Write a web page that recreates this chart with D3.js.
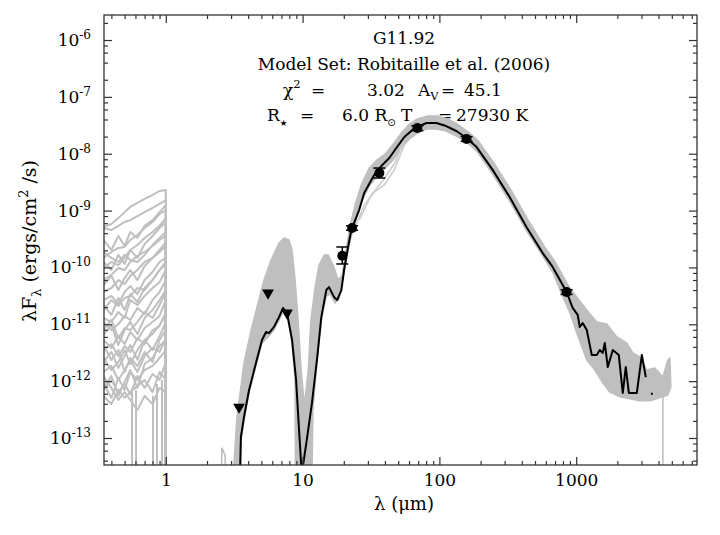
<!DOCTYPE html>
<html><head><meta charset="utf-8">
<script src="https://cdn.jsdelivr.net/npm/d3@7"></script>
<style>body{margin:0;background:#fff}svg{display:block}text{white-space:pre}</style>
</head><body><svg id="c" width="720" height="535"></svg>
<script>
// ---------------- DATA ----------------
// axis ticks
const xTickValues = [1, 10, 100, 1000];
const xTickLabels = ["1", "10", "100", "1000"];
const yTickExps = [-6, -7, -8, -9, -10, -11, -12, -13];

// best-fit model (black) : [wavelength (micron), lambda*F_lambda (erg/cm2/s)]
const bestFit = [
 [3.38,1e-15],[3.54,1.04e-13],[3.73,2.34e-13],[4.06,7.0e-13],[4.56,2.09e-12],[5.05,5.3e-12],[5.40,7.3e-12],
 [5.68,7.0e-12],[6.18,9.0e-12],[6.73,1.34e-11],[7.19,1.94e-11],[7.69,1.58e-11],[8.37,5.3e-12],[8.96,1.05e-12],
 [9.42,1.38e-13],[9.75,3.6e-14],[9.95,1e-15],[10.09,3.4e-14],[10.8,1.04e-13],[11.7,4.1e-13],[12.8,2.66e-12],
 [13.7,1.34e-11],[14.9,4.0e-11],[15.6,4.5e-11],[17.0,3.0e-11],[17.9,2.67e-11],[19.2,4.0e-11],[20.1,9.0e-11],
 [21.5,2.29e-10],[22.7,4.55e-10],[25.9,1.02e-9],[28.2,2.04e-9],[31.8,3.45e-9],[34.5,4.8e-9],[38.2,6.3e-9],
 [43.0,8.4e-9],[48.4,1.26e-8],[55.4,1.97e-8],[63.4,2.61e-8],[69.0,2.95e-8],[80.4,3.47e-8],[95.1,3.47e-8],
 [112,3.07e-8],[133,2.51e-8],[158,1.89e-8],[187,1.31e-8],[245,5.2e-9],[326,1.73e-9],[434,5.1e-10],
 [569,1.79e-10],[673,1.02e-10],[851,3.70e-11],[942,1.94e-11],[1026,1.46e-11],[1061,8.97e-12],[1116,1.05e-11],
 [1195,7.9e-12],[1300,2.88e-12],[1414,2.88e-12],[1487,3.53e-12],[1564,3.13e-12],[1618,4.69e-12],[1702,1.77e-12],
 [1851,3.53e-12],[2048,2.88e-12],[2191,6.2e-13],[2304,1.77e-12],[2426,6.2e-13],[2775,6.2e-13],[3019,2.88e-12],
 [3228,1.18e-12]
];
const bestFitDash = [[3514,6.0e-13],[3630,6.0e-13]];

// envelope of the grey model fits (upper and lower edge)
const bandUpper = [
 [3.04,1e-15],[3.15,3.6e-14],[3.31,2.34e-13],[3.73,2.09e-12],[4.20,7.9e-12],[4.64,2.0e-11],[5.22,6.0e-11],
 [5.88,1.35e-10],[6.73,2.7e-10],[7.31,3.3e-10],[7.96,3.04e-10],[8.37,2.03e-10],[8.81,6.0e-11],[9.27,1.19e-11],
 [9.75,1.58e-12],[10.3,3.8e-13],[11.0,1.58e-12],[11.5,1.19e-11],[12.4,4.9e-11],[13.2,1.1e-10],[14.4,1.66e-10],
 [15.4,1.66e-10],[16.7,1.1e-10],[18.2,6.0e-11],[19.5,7.4e-11],[20.8,2.03e-10],[22.3,5.6e-10],[24.2,1.25e-9],
 [26.8,2.82e-9],[30.7,5.6e-9],[35.1,7.8e-9],[40.2,9.9e-9],[46.0,1.48e-8],[52.7,2.31e-8],[60.3,3.33e-8],
 [69.0,4.08e-8],[81.7,4.6e-8],[96.7,4.6e-8],[115,4.08e-8],[135,3.33e-8],[163,2.41e-8],[193,1.67e-8],
 [253,6.6e-9],[337,2.21e-9],[449,6.6e-10],[588,2.29e-10],[695,1.30e-10],[881,4.7e-11],[1009,3.02e-11],
 [1195,1.79e-11],[1414,1.10e-11],[1672,1.01e-11],[1981,6.0e-12],[2344,4.69e-12],[2594,3.13e-12],
 [2918,2.66e-12],[3282,1.57e-12],[3758,1.71e-12],[4302,1.18e-12],[4677,2.36e-12],[4843,2.55e-12],[4921,7.9e-13]
];
const bandLower = [
 [3.04,1e-15],[3.48,1e-15],[3.54,9.2e-14],[3.73,2.07e-13],[4.06,6.2e-13],[4.56,1.85e-12],[5.05,4.7e-12],
 [5.68,6.2e-12],[6.18,7.9e-12],[6.73,1.19e-11],[7.19,1.64e-11],[7.83,1.29e-11],[8.24,7.9e-12],[8.81,1.05e-12],
 [8.9,1e-15],[11.5,1e-15],[11.9,3.1e-13],[12.8,2.36e-12],[13.7,1.19e-11],[14.9,3.1e-11],[15.9,3.4e-11],
 [17.3,2.37e-11],[18.5,2.9e-11],[19.8,6.5e-11],[21.2,1.66e-10],[22.7,3.57e-10],[24.7,7.4e-10],[27.3,1.53e-9],
 [30.7,2.7e-9],[35.1,4.06e-9],[40.2,5.6e-9],[46.0,7.8e-9],[52.7,1.26e-8],[60.3,1.82e-8],[69.0,2.31e-8],
 [80.4,2.72e-8],[95.1,2.72e-8],[112,2.51e-8],[133,2.05e-8],[158,1.61e-8],[187,1.12e-8],[245,4.4e-9],
 [326,1.47e-9],[434,4.4e-10],[569,1.59e-10],[673,8.3e-11],[796,3.1e-11],[896,1.64e-11],[1009,7.0e-12],
 [1195,2.36e-12],[1367,1.57e-12],[1564,9.3e-13],[1760,6.4e-13],[2083,5.3e-13],[2466,4.9e-13],[2918,4.5e-13],
 [3453,4.5e-13],[4090,5.1e-13],[4677,5.7e-13],[4921,7.9e-13]
];

// individual grey model fits
const greyExtra = [
 [[23.8,4.55e-10],[28.2,1.25e-9],[33.4,2.12e-9],[39.5,2.82e-9],[46.8,5.2e-9],[55.4,1.42e-8]],
 [[25.9,6.8e-10],[31.8,1.88e-9],[38.9,3.45e-9],[47.6,7.1e-9],[54.5,1.61e-8]],
 [[2.49,1e-15],[2.57,6.7e-14],[2.71,5.0e-14],[2.85,1e-15]],
 [[4302,1.0e-12],[4302,1e-15]]
];

// optical part of the grey model fits (0.35 - 1 micron), sampled at leftLam
const leftLam = [0.35, 0.4, 0.45, 0.5, 0.55, 0.62, 0.7, 0.8, 0.9, 1.0];
const leftFits = [
 [5.1e-10,5.8e-10,7.4e-10,9.4e-10,1.16e-9,1.36e-9,1.60e-9,1.88e-9,2.21e-9,2.30e-9],
 [4.94e-10,4.55e-10,5.4e-10,6.3e-10,6.8e-10,8.0e-10,9.4e-10,1.11e-9,1.31e-9,1.53e-9],
 [3.04e-10,2.03e-10,3.57e-10,2.38e-10,4.20e-10,3.30e-10,5.4e-10,6.8e-10,9.4e-10,1.25e-9],
 [1.47e-10,1.87e-10,2.20e-10,2.29e-10,3.04e-10,3.72e-10,4.94e-10,6.3e-10,8.7e-10,1.02e-9],
 [1.25e-10,9.0e-11,1.66e-10,1.15e-10,2.03e-10,1.47e-10,2.58e-10,3.57e-10,4.94e-10,6.3e-10],
 [9.8e-11,1.25e-10,1.10e-10,1.47e-10,2.03e-10,2.48e-10,3.30e-10,4.20e-10,5.4e-10,7.4e-10],
 [1.87e-10,1.47e-10,1.25e-10,1.66e-10,1.35e-10,1.25e-10,1.66e-10,2.48e-10,3.30e-10,4.20e-10],
 [6.0e-11,7.4e-11,9.8e-11,9.0e-11,1.25e-10,1.6e-10,1.87e-10,2.38e-10,3.04e-10,3.57e-10],
 [4.9e-11,7.1e-11,4.0e-11,6.5e-11,9.0e-11,6.0e-11,1.06e-10,1.47e-10,2.03e-10,2.80e-10],
 [3.7e-11,4.35e-11,6.0e-11,5.1e-11,7.1e-11,9.0e-11,1.25e-10,1.47e-10,1.87e-10,2.38e-10],
 [2.67e-11,3.15e-11,2.28e-11,3.7e-11,4.7e-11,3.4e-11,6.0e-11,8.3e-11,1.25e-10,1.47e-10],
 [2.18e-11,1.46e-11,2.90e-11,1.79e-11,3.4e-11,2.47e-11,4.35e-11,6.0e-11,9.0e-11,1.15e-10],
 [1.79e-11,2.67e-11,2.10e-11,2.90e-11,3.15e-11,4.35e-11,4.0e-11,6.0e-11,9.0e-11,1.25e-10],
 [1.29e-11,1.10e-11,1.64e-11,1.29e-11,2.67e-11,2.18e-11,3.15e-11,4.35e-11,5.5e-11,9.0e-11],
 [1.10e-11,7.9e-12,1.01e-11,1.40e-11,1.19e-11,1.94e-11,1.52e-11,2.67e-11,3.7e-11,6.0e-11],
 [6.5e-12,9.7e-12,4.33e-12,7.9e-12,1.10e-11,6.75e-12,1.29e-11,1.79e-11,2.67e-11,4.0e-11],
 [7.9e-12,1.19e-11,5.7e-12,8.6e-12,7.9e-12,1.10e-11,1.64e-11,1.29e-11,2.18e-11,3.7e-11],
 [5.3e-12,3.83e-12,6.2e-12,4.5e-12,7.3e-12,5.3e-12,8.6e-12,1.10e-11,1.40e-11,2.67e-11],
 [4.33e-12,2.36e-12,3.53e-12,1.45e-12,2.55e-12,1.85e-12,3.26e-12,2.17e-12,5.3e-12,7.9e-12],
 [3.53e-12,4.5e-12,2.77e-12,4.15e-12,3.26e-12,5.7e-12,4.5e-12,7.9e-12,9.3e-12,1.64e-11],
 [2.17e-12,3.26e-12,1.71e-12,2.77e-12,4.33e-12,2.36e-12,5.3e-12,6.75e-12,9.7e-12,1.46e-11],
 [2.55e-12,1.57e-12,2.17e-12,3.53e-12,2.0e-12,3.53e-12,5.3e-12,3.53e-12,6.2e-12,1.10e-11],
 [1.45e-12,1.85e-12,1.05e-12,1.57e-12,2.36e-12,1.45e-12,2.77e-12,3.83e-12,3.26e-12,5.7e-12],
 [8.9e-13,5.1e-13,1.14e-12,7.0e-13,1.45e-12,1.05e-12,1.57e-12,1.85e-12,2.55e-12,3.53e-12],
 [7.6e-13,1.23e-12,5.5e-13,9.7e-13,1.57e-12,7.6e-13,2.0e-12,2.55e-12,4.15e-12,5.3e-12],
 [7.0e-13,1.05e-12,6.4e-13,8.9e-13,5.9e-13,1.23e-12,7.6e-13,1.34e-12,1.05e-12,2.17e-12],
 [5.5e-13,3.96e-13,7.0e-13,5.1e-13,6.4e-13,8.2e-13,1.05e-12,6.4e-13,1.45e-12,1.05e-12],
 [1.23e-12,7.6e-13,4.66e-13,6.4e-13,4.66e-13,3.11e-13,5.5e-13,3.96e-13,7.6e-13,6.4e-13]
];
// grey fits that drop to zero inside the optical range: [wavelength, flux before the drop]
const leftDrops = [[0.566,6.4e-13],[0.606,7.0e-13],[0.806,5.5e-13],[0.862,8.9e-13],[0.938,1.05e-12]];
const dropFloor = 1e-15;

// observed fluxes
const detLam   = [19.5, 23.0, 36.4, 69.0, 158, 850];
const detFlux  = [1.6e-10, 4.94e-10, 4.58e-9, 2.83e-8, 1.82e-8, 3.7e-11];
const detErrLo = [1.15e-10, 4.5e-10, 3.74e-9, 2.55e-8, 1.65e-8, 3.35e-11];
const detErrHi = [2.29e-10, 5.4e-10, 5.6e-9, 3.1e-8, 2.0e-8, 4.05e-11];
// upper limits
const limLam  = [3.43, 5.59, 7.69];
const limFlux = [3.5e-13, 3.55e-11, 1.58e-11];

// annotation
const sourceName = "G11.92";
const modelSet = "Model Set: Robitaille et al. (2006)";
const chi2 = "3.02", av = "45.1", rstar = "6.0", tstar = "27930";

// ---------------- DRAWING ----------------
const FONT = "DejaVu Serif";
const L = 104, R = 697, T = 15, B = 465;
const svg = d3.select("#c").attr("font-family", FONT);
const x = d3.scaleLog().domain([0.3533, 7640]).range([L, R]);
const y = d3.scaleLog().domain([3.35e-14, 2.754e-6]).range([B, T]);
const GREY = "#bfbfbf";

function rich(g, px, py, parts, size, anchor) {
  const t = g.append("text").attr("x", px).attr("y", py).attr("font-size", size)
    .attr("text-anchor", anchor || "start").attr("fill", "#000");
  let shift = 0;
  parts.forEach(p => {
    const target = p.sup ? -0.42 * size : (p.sub ? 0.28 * size : 0);
    const s = t.append("tspan").text(p.t).attr("dy", target - shift);
    if (p.sup || p.sub) s.attr("font-size", size * (p.scale || 0.68));
    if (p.family) s.attr("font-family", p.family);
    shift = target;
  });
  return t;
}

// header text (drawn first, plot marks go over it)
const hdr = svg.append("g");
const HS = 17;
const star = {t: "★", sub: true, scale: 0.5, family: "DejaVu Sans"};
rich(hdr, 404, 44, [{t: sourceName}], HS, "middle");
rich(hdr, 404, 69.5, [{t: modelSet}], HS, "middle");
rich(hdr, 283, 95.5, [{t: "χ"}, {t: "2", sup: true}], HS);
rich(hdr, 311, 95.5, [{t: "="}], HS);
rich(hdr, 367, 95.5, [{t: chi2}], HS);
rich(hdr, 418, 95.5, [{t: "A"}, {t: "V", sub: true}], HS);
rich(hdr, 441, 95.5, [{t: "="}], HS);
rich(hdr, 464, 95.5, [{t: av}], HS);
rich(hdr, 267, 121, [{t: "R"}, star], HS);
rich(hdr, 300, 121, [{t: "="}], HS);
rich(hdr, 342, 121, [{t: rstar + " R"}, {t: "⊙", sub: true, scale: 0.6, family: "DejaVu Sans"}], HS);
rich(hdr, 401, 121, [{t: "T"}, star], HS);
rich(hdr, 438, 121, [{t: "="}], HS);
rich(hdr, 456, 121, [{t: tstar + " K"}], HS);

// clip
svg.append("clipPath").attr("id", "clip").append("rect")
  .attr("x", L).attr("y", T).attr("width", R - L).attr("height", B - T);
const plot = svg.append("g").attr("clip-path", "url(#clip)");

const line = d3.line().x(d => x(d[0])).y(d => y(d[1]));

// grey envelope
const poly = bandUpper.concat(bandLower.slice().reverse());
plot.append("path").attr("d", line(poly) + "Z").attr("fill", GREY).attr("stroke", GREY)
  .attr("stroke-width", 1.5).attr("stroke-linejoin", "round");

// individual grey fits
greyExtra.forEach((f, i) => {
  plot.append("path").attr("d", line(f)).attr("fill", "none")
    .attr("stroke", i < 2 ? "#cdcdcd" : GREY).attr("stroke-width", 1.6);
});
leftFits.forEach(v => {
  const pts = leftLam.map((l, i) => [l, v[i]]);
  pts.push([leftLam[leftLam.length - 1], dropFloor]);
  plot.append("path").attr("d", line(pts)).attr("fill", "none").attr("stroke", GREY)
    .attr("stroke-width", 2).attr("stroke-linejoin", "round");
});
leftDrops.forEach(d => {
  plot.append("path").attr("d", line([[d[0], d[1]], [d[0], dropFloor]])).attr("fill", "none")
    .attr("stroke", GREY).attr("stroke-width", 2);
});

// best fit
plot.append("path").attr("d", line(bestFit)).attr("fill", "none").attr("stroke", "#000")
  .attr("stroke-width", 2).attr("stroke-linejoin", "round");
plot.append("path").attr("d", line(bestFitDash)).attr("fill", "none").attr("stroke", "#000")
  .attr("stroke-width", 2);

// error bars + points
const pts = svg.append("g");
detLam.forEach((l, i) => {
  const cx = x(l);
  pts.append("line").attr("x1", cx).attr("x2", cx).attr("y1", y(detErrLo[i])).attr("y2", y(detErrHi[i]))
    .attr("stroke", "#000").attr("stroke-width", 1.5);
  [detErrLo[i], detErrHi[i]].forEach(e => pts.append("line").attr("x1", cx - 6).attr("x2", cx + 6)
    .attr("y1", y(e)).attr("y2", y(e)).attr("stroke", "#000").attr("stroke-width", 1.5));
  pts.append("circle").attr("cx", cx).attr("cy", y(detFlux[i])).attr("r", 5).attr("fill", "#000");
});
const tri = d3.symbol().type(d3.symbolTriangle).size(60);
limLam.forEach((l, i) => {
  pts.append("path").attr("d", tri()).attr("fill", "#000")
    .attr("transform", `translate(${x(l)},${y(limFlux[i])}) rotate(180)`);
});

// axes
const minorX = [];
for (let k = -1; k <= 3; k++) for (let m = 2; m <= 9; m++) {
  const v = m * Math.pow(10, k);
  if (v > x.domain()[0] && v < x.domain()[1]) minorX.push(v);
}
const majorY = yTickExps.map(e => Math.pow(10, e));
const minorY = [];
for (let k = -14; k <= -6; k++) [2, 4, 6, 8].forEach(m => {
  const v = m * Math.pow(10, k);
  if (v > y.domain()[0] && v < y.domain()[1]) minorY.push(v);
});
const AX = "#333";
function styleAxis(g) {
  g.select(".domain").remove();
  g.selectAll(".tick line").attr("stroke", AX).attr("stroke-width", 1.2);
  g.attr("font-family", FONT).attr("font-size", 17);
  g.selectAll(".tick text").attr("fill", "#000");
}
const ax = svg.append("g");
ax.append("g").attr("transform", `translate(0,${B})`)
  .call(d3.axisBottom(x).tickValues(xTickValues).tickSize(-8).tickPadding(9)
    .tickFormat((d, i) => xTickLabels[i])).call(styleAxis);
ax.append("g").attr("transform", `translate(0,${B})`)
  .call(d3.axisBottom(x).tickValues(minorX).tickSize(-4).tickFormat("")).call(styleAxis);
ax.append("g").attr("transform", `translate(0,${T})`)
  .call(d3.axisTop(x).tickValues(xTickValues).tickSize(-8).tickFormat("")).call(styleAxis);
ax.append("g").attr("transform", `translate(0,${T})`)
  .call(d3.axisTop(x).tickValues(minorX).tickSize(-4).tickFormat("")).call(styleAxis);
const yl = ax.append("g").attr("transform", `translate(${L},0)`)
  .call(d3.axisLeft(y).tickValues(majorY).tickSize(-8).tickPadding(13).tickFormat(""))
  .call(styleAxis);
yl.selectAll(".tick text").each(function (d, i) {
  const t = d3.select(this);
  t.append("tspan").text("10");
  t.append("tspan").text(String(yTickExps[i])).attr("dy", -7).attr("font-size", 12);
});
ax.append("g").attr("transform", `translate(${L},0)`)
  .call(d3.axisLeft(y).tickValues(minorY).tickSize(-4).tickFormat("")).call(styleAxis);
ax.append("g").attr("transform", `translate(${R},0)`)
  .call(d3.axisRight(y).tickValues(majorY).tickSize(-8).tickFormat("")).call(styleAxis);
ax.append("g").attr("transform", `translate(${R},0)`)
  .call(d3.axisRight(y).tickValues(minorY).tickSize(-4).tickFormat("")).call(styleAxis);
svg.append("rect").attr("x", L).attr("y", T).attr("width", R - L).attr("height", B - T)
  .attr("fill", "none").attr("stroke", AX).attr("stroke-width", 1.3);

// axis titles
rich(svg, 404, 510, [{t: "λ (μm)"}], 18, "middle");
const ylab = svg.append("g").attr("transform", "translate(36,241) rotate(-90)");
rich(ylab, 0, 0, [{t: "λF"}, {t: "λ", sub: true}, {t: " (ergs/cm"}, {t: "2", sup: true}, {t: " /s)"}], 19, "middle");
</script></body></html>
